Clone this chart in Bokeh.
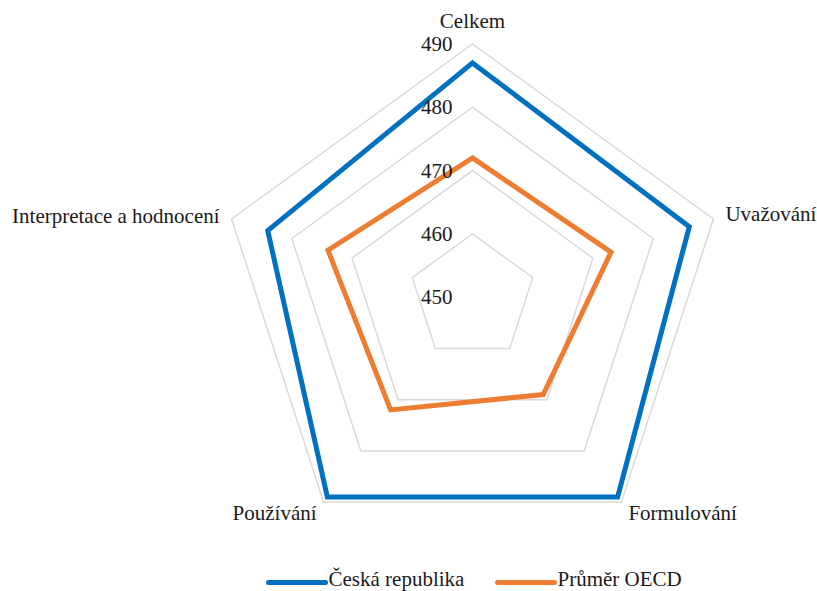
import numpy as np
from bokeh.plotting import figure
from bokeh.models import Range1d
from bokeh.core.properties import value
from bokeh.embed import file_html
from bokeh.resources import INLINE

# PISA mathematics: overall score and process subscales
categories = ["Celkem", "Uvažování", "Formulování", "Používání", "Interpretace a hodnocení"]
cz_values = [487, 486, 489, 489, 484]
oecd_values = [472, 473, 469, 472, 474]
tick_values = [450, 460, 470, 480, 490]
series_names = ["Česká republika", "Průměr OECD"]
series_colors = ["#0070C0", "#ED7D31"]

W, H = 817, 591
FONT = value("Liberation Serif")
FONT_SIZE = "21px"
TEXT_COLOR = "#1A1A1A"

# radial scale: value -> distance from centre (in page pixels)
cx, cy = 472.0, 296.7
R = 253.3
vmin, vmax = tick_values[0], tick_values[-1]
angles = np.pi / 2 - 2 * np.pi * np.arange(len(categories)) / len(categories)


def radius(v):
    return (np.asarray(v, dtype=float) - vmin) / (vmax - vmin) * R


def to_xy(vals):
    r = radius(vals)
    return cx + r * np.cos(angles), cy - r * np.sin(angles)


p = figure(width=W, height=H, output_backend="svg", toolbar_location=None,
           x_range=Range1d(0, W), y_range=Range1d(H, 0),
           min_border=0, background_fill_color="white", border_fill_color="white")
p.axis.visible = False
p.grid.visible = False
p.outline_line_color = None

# pentagonal grid rings
for t in tick_values:
    gx, gy = to_xy([t] * len(categories))
    p.patch(list(gx), list(gy), fill_color=None, line_color="#D9D9D9",
            line_width=1.5, line_join="miter")

# data series
for vals, col in zip([cz_values, oecd_values], series_colors):
    sx, sy = to_xy(vals)
    p.patch(list(sx), list(sy), fill_color=None, line_color=col,
            line_width=5, line_join="miter")

# value labels along the top spoke
tick_r = radius(tick_values)
p.text(x=[cx - 20] * len(tick_values), y=list(cy - tick_r),
       text=[str(t) for t in tick_values], text_align="right", text_baseline="middle",
       text_font=FONT, text_font_size=FONT_SIZE, text_color=TEXT_COLOR)

# category labels just outside the outer ring
ox, oy = to_xy([vmax] * len(categories))
dx = [0, 12, 7, -7, -12]
dy = [-23, -5, 11, 11, -3]
aligns = ["center", "left", "left", "right", "right"]
for i, cat in enumerate(categories):
    p.text(x=[ox[i] + dx[i]], y=[oy[i] + dy[i]], text=[cat],
           text_align=aligns[i], text_baseline="middle",
           text_font=FONT, text_font_size=FONT_SIZE, text_color=TEXT_COLOR)

# legend below the chart
leg_y = 582
leg_x0 = [268, 497]
for name, col, x0 in zip(series_names, series_colors, leg_x0):
    p.line([x0, x0 + 57], [leg_y, leg_y], line_color=col, line_width=5, line_cap="round")
    p.text(x=[x0 + 60], y=[leg_y - 4], text=[name], text_align="left",
           text_baseline="middle", text_font=FONT, text_font_size=FONT_SIZE,
           text_color=TEXT_COLOR)

open("out.html", "w").write(file_html(p, INLINE))
